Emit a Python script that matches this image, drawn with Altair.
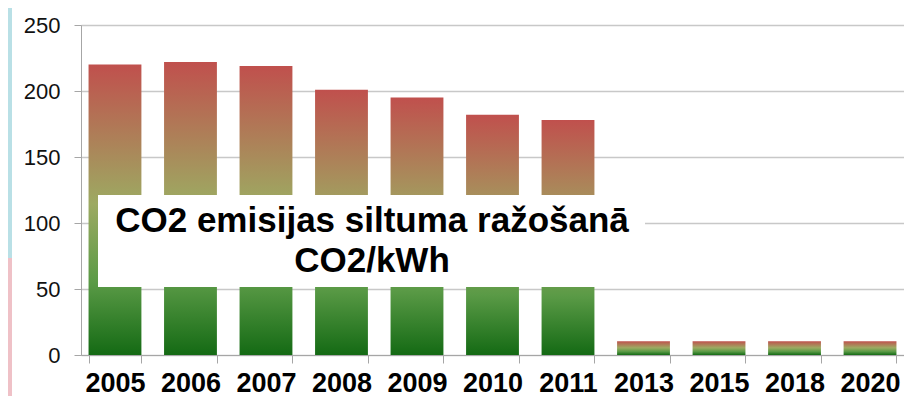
import altair as alt
import pandas as pd

years = ["2005", "2006", "2007", "2008", "2009", "2010", "2011", "2013", "2015", "2018", "2020"]
co2 = [220, 222, 219, 201, 195, 182, 178, 10.5, 10.5, 10.5, 10.5]
title_lines = ["CO2 emisijas siltuma ražošanā", "CO2/kWh"]
y_ticks = [0, 50, 100, 150, 200, 250]

df = pd.DataFrame({"year": years, "co2": co2})

W, H = 823, 330

grad = alt.Gradient(
    gradient="linear", x1=0, y1=0, x2=0, y2=1,
    stops=[
        alt.GradientStop(color="#c0504d", offset=0),
        alt.GradientStop(color="#9daa62", offset=0.48),
        alt.GradientStop(color="#5a9a46", offset=0.75),
        alt.GradientStop(color="#146a14", offset=1),
    ],
)

x_enc = alt.X(
    "year:N", sort=years, title=None,
    scale=alt.Scale(paddingInner=0.3, paddingOuter=0.1),
    axis=alt.Axis(
        labelAngle=0, labelFont="Liberation Sans", labelFontSize=27, labelFontWeight="bold",
        labelColor="#000000", labelPadding=7, tickBand="extent", tickSize=8,
        tickColor="#a6a6a6", domainColor="#a6a6a6", grid=False,
    ),
)
y_enc = alt.Y(
    "co2:Q", title=None,
    scale=alt.Scale(domain=[0, 250], nice=False),
    axis=alt.Axis(
        values=y_ticks, labelFont="Liberation Sans", labelFontSize=22, labelColor="#111111",
        labelPadding=14, tickSize=7, tickColor="#a6a6a6", domainColor="#a6a6a6",
        gridColor="#c8c8c8", gridWidth=1.5,
    ),
)

bars = alt.Chart(df).mark_bar(color=grad).encode(x=x_enc, y=y_enc)

box = alt.Chart(df).mark_rect(color="white").encode(
    x=alt.value(17), x2=alt.value(564), y=alt.value(170), y2=alt.value(262)
).transform_filter(alt.datum.year == years[0])

label = alt.Chart(pd.DataFrame({"t": [title_lines]})).mark_text(
    font="Liberation Sans", fontSize=35, fontWeight="bold", color="#000000",
    align="center", baseline="alphabetic", lineHeight=40,
).encode(x=alt.value(291), y=alt.value(207), text="t")

strip_blue = alt.Chart(df).mark_rect(color="#b9e0e6").encode(
    x=alt.value(-73), x2=alt.value(-69), y=alt.value(-17), y2=alt.value(233)
).transform_filter(alt.datum.year == years[0])
strip_pink = alt.Chart(df).mark_rect(color="#efc1c7").encode(
    x=alt.value(-73), x2=alt.value(-69), y=alt.value(233), y2=alt.value(371)
).transform_filter(alt.datum.year == years[0])

chart = alt.layer(strip_blue, strip_pink, bars, box, label).properties(
    width=W, height=H,
    autosize=alt.AutoSizeParams(type="none"),
    padding={"left": 73, "top": 17, "right": 0, "bottom": 41},
).configure_view(stroke=None).configure(background="white")

chart.save("out.html", embed_options={"renderer": "svg", "actions": False})
